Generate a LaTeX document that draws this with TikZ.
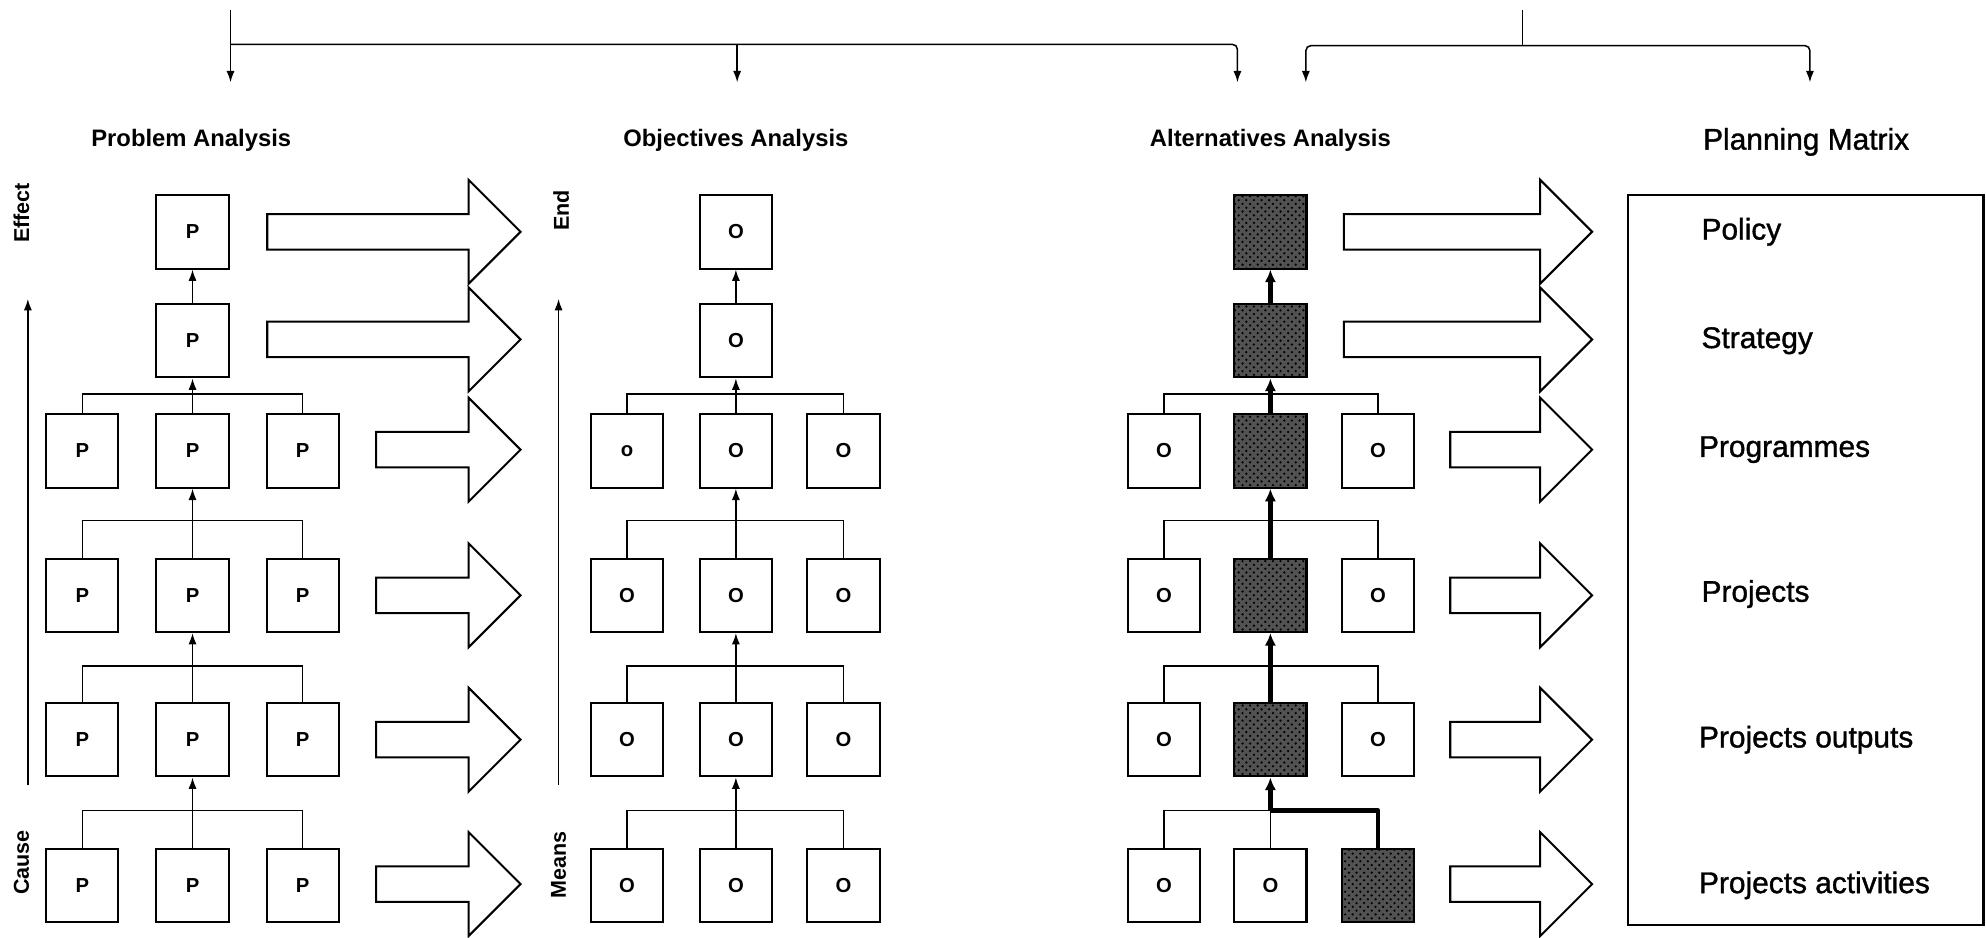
\documentclass[tikz,border=0pt]{standalone}
\usepackage{fontspec}
\setmainfont{Liberation Sans}
\newfontfamily\matfont[FakeBold=1.2]{Liberation Sans}
\usetikzlibrary{arrows.meta,patterns}
\newcommand{\fatarrow}[3]{%
  \draw[fat] (#1,{#3-14}) -- ({#2-41},{#3-14}) -- ({#2-41},{#3-41}) -- (#2,#3)
    -- ({#2-41},{#3+41}) -- ({#2-41},{#3+14}) -- (#1,{#3+14}) -- cycle;}
\begin{document}
\begin{tikzpicture}[x=0.5pt,y=-0.5pt,
  box/.style={draw,line width=0.8pt,fill=white,minimum width=28.5pt,minimum height=29pt,inner sep=0pt,
    font=\bfseries\fontsize{8}{9}\selectfont},
  shadedbox/.style={box,fill=black!68,postaction={pattern=crosshatch dots,pattern color=black}},
  conn/.style={line width=0.6pt},
  arr/.style={conn,-{Latex[length=4.5pt,width=3.2pt]}},
  boldarr/.style={line width=1.7pt,-{Latex[length=5pt,width=4.5pt]}},
  boldline/.style={line width=1.7pt},
  fat/.style={line width=0.8pt,line join=miter},
  title/.style={font=\bfseries\fontsize{9.4}{11}\selectfont},
  sidelab/.style={rotate=90,font=\bfseries\fontsize{8.5}{10}\selectfont},
  matlab/.style={anchor=west,inner sep=0pt,font=\matfont\fontsize{11.8}{14}\selectfont},
]
\useasboundingbox (0,0) rectangle (1568,740);

% ---- top brackets
\coordinate (s1) at (182,8);
\coordinate (h1) at (182,35);
\coordinate (h2) at (582,35);
\coordinate (t1) at (182,65);
\coordinate (t2) at (582,65);
\coordinate (t3) at (977,65);
\draw[conn] (s1) -- (h1);
\draw[arr] (h1) -- (t1);
\draw[arr] (h2) -- (t2);
\draw[arr,rounded corners=2pt] (h1) -| (t3);
\coordinate (s2) at (1202,8);
\coordinate (h3) at (1202,36);
\coordinate (t4) at (1031,65);
\coordinate (t5) at (1429,65);
\draw[conn] (s2) -- (h3);
\draw[arr,rounded corners=2pt] (h3) -| (t4);
\draw[arr,rounded corners=2pt] (h3) -| (t5);

% ---- titles
\node[title] (ttlP) at (151,111) {Problem Analysis};
\node[title] (ttlO) at (581,111) {Objectives Analysis};
\node[title] (ttlA) at (1003,111) {Alternatives Analysis};
\node[font=\matfont\fontsize{11.8}{14}\selectfont] (ttlM) at (1426,112) {Planning Matrix};

% ---- side labels
\node[sidelab] (effect) at (17,168) {Effect};
\node[sidelab] (cause) at (17,681) {Cause};
\coordinate (ca) at (22,620);
\coordinate (cb) at (22,236);
\draw[arr] (ca) -- (cb);
\node[sidelab] (endl) at (443,166) {End};
\node[sidelab] (means) at (441,683) {Means};
\coordinate (ma) at (441,620);
\coordinate (mb) at (441,236);
\draw[arr] (ma) -- (mb);

% ---- Problem analysis boxes
\node[box] (p1) at (152,183) {P};
\node[box] (p2) at (152,269) {P};
\foreach \r/\y in {3/356,4/470,5/584,6/699}{
  \node[box] (p\r-1) at (65,\y) {P};
  \node[box] (p\r-2) at (152,\y) {P};
  \node[box] (p\r-3) at (239,\y) {P};
}
\draw[arr] (p2) -- (p1);
\coordinate (pj3) at (152,311);
\draw[conn] (p3-1.north) |- (pj3) -| (p3-3.north);
\draw[arr] (p3-2) -- (p2);
\foreach \r/\u/\b in {4/3/411,5/4/526,6/5/640}{
  \coordinate (pj\r) at (152,\b);
  \draw[conn] (p\r-1.north) |- (pj\r) -| (p\r-3.north);
  \draw[arr] (p\r-2) -- (p\u-2);
}

% ---- Objectives analysis boxes
\node[box] (o1) at (581,183) {O};
\node[box] (o2) at (581,269) {O};
\foreach \r/\y in {3/356,4/470,5/584,6/699}{
  \node[box] (o\r-2) at (581,\y) {O};
  \node[box] (o\r-3) at (666,\y) {O};
}
\node[box] (o3-1) at (495,356) {o};
\foreach \r/\y in {4/470,5/584,6/699}{
  \node[box] (o\r-1) at (495,\y) {O};
}
\draw[arr] (o2) -- (o1);
\coordinate (oj3) at (581,311);
\draw[conn] (o3-1.north) |- (oj3) -| (o3-3.north);
\draw[arr] (o3-2) -- (o2);
\foreach \r/\u/\b in {4/3/411,5/4/526,6/5/640}{
  \coordinate (oj\r) at (581,\b);
  \draw[conn] (o\r-1.north) |- (oj\r) -| (o\r-3.north);
  \draw[arr] (o\r-2) -- (o\u-2);
}

% ---- Alternatives analysis boxes
\node[shadedbox] (a1) at (1003,183) {};
\node[shadedbox] (a2) at (1003,269) {};
\foreach \r/\y in {3/356,4/470,5/584}{
  \node[box] (a\r-1) at (919,\y) {O};
  \node[shadedbox] (a\r-2) at (1003,\y) {};
  \node[box] (a\r-3) at (1088,\y) {O};
}
\node[box] (a6-1) at (919,699) {O};
\node[box] (a6-2) at (1003,699) {O};
\node[shadedbox] (a6-3) at (1088,699) {};
\draw[boldarr] (a2) -- (a1);
\coordinate (aj3) at (1003,311);
\draw[conn] (a3-1.north) |- (aj3) -| (a3-3.north);
\draw[boldarr] (a3-2) -- (a2);
\foreach \r/\u/\b in {4/3/411,5/4/526}{
  \coordinate (aj\r) at (1003,\b);
  \draw[conn] (a\r-1.north) |- (aj\r) -| (a\r-3.north);
  \draw[boldarr] (a\r-2) -- (a\u-2);
}
\coordinate (aj6) at (1003,640);
\draw[conn] (a6-1.north) |- (aj6);
\draw[conn] (a6-2.north) -- (aj6);
\draw[boldline,line join=round] (a6-3.north) |- (aj6);
\draw[boldarr] (aj6) -- (a5-2.south);

% ---- big arrows
\fatarrow{211}{411}{183}
\fatarrow{211}{411}{268}
\fatarrow{297}{411}{355}
\fatarrow{297}{411}{470}
\fatarrow{297}{411}{584}
\fatarrow{297}{411}{698}
\fatarrow{1061}{1257}{183}
\fatarrow{1061}{1257}{268}
\fatarrow{1145}{1257}{355}
\fatarrow{1145}{1257}{470}
\fatarrow{1145}{1257}{584}
\fatarrow{1145}{1257}{698}

% ---- planning matrix
\node[draw,line width=0.8pt,minimum width=140.5pt,minimum height=288pt,inner sep=0pt] (mat) at (1425.5,442) {};
\node[matlab] (m1) at (1343,183) {Policy};
\node[matlab] (m2) at (1343,269) {Strategy};
\node[matlab] (m3) at (1341,355) {Programmes};
\node[matlab] (m4) at (1343,469) {Projects};
\node[matlab] (m5) at (1341,584) {Projects outputs};
\node[matlab] (m6) at (1341,699) {Projects activities};
\end{tikzpicture}
\end{document}
